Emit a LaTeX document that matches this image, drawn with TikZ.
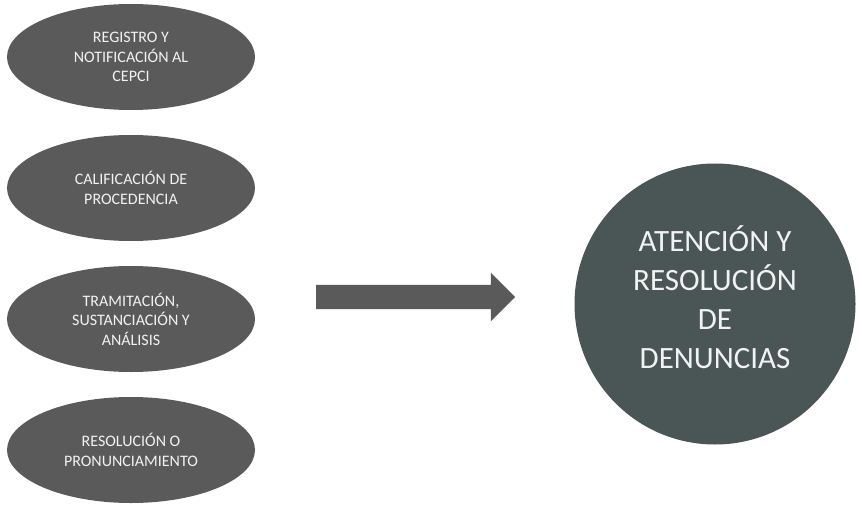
\documentclass[tikz,border=0pt]{standalone}
\usepackage{fontspec}
\setmainfont{Carlito}
\usetikzlibrary{positioning}
\usetikzlibrary{shapes,shapes.geometric,shapes.arrows,calc}
\definecolor{pasogris}{HTML}{5A5A5A}
\definecolor{metagris}{HTML}{4A5555}
\definecolor{textoclaro}{HTML}{F2F2F2}

\begin{document}
\begin{tikzpicture}[x=1pt,y=1pt,node distance=131pt,on grid,
    paso/.style={ellipse,fill=pasogris,text=textoclaro,minimum width=248pt,
        minimum height=106pt,inner sep=0pt,align=center,
        font=\fontsize{16}{19.5}\selectfont},
    meta/.style={circle,fill=metagris,minimum size=281pt,inner sep=0pt},
    metatexto/.style={text=textoclaro,inner sep=0pt,align=center,
        font=\fontsize{31}{39}\selectfont},
    flecha/.style={single arrow,fill=pasogris,minimum height=199pt,
        inner xsep=0pt,inner ysep=12pt,single arrow head extend=12pt,
        single arrow head indent=0pt}]
    \useasboundingbox (0,0) rectangle (859,507);

    \node[paso] (reg) at (131,450) {REGISTRO Y\\NOTIFICACIÓN AL\\CEPCI};
    \node[paso] (cal) [below =of reg] {CALIFICACIÓN DE\\PROCEDENCIA};
    \node[paso] (tra) [below =of cal] {TRAMITACIÓN,\\SUSTANCIACIÓN Y\\ANÁLISIS};
    \node[paso] (res) [below =of tra] {RESOLUCIÓN O\\PRONUNCIAMIENTO};

    \node[meta] (aten) at (715,203) {};
    \node[metatexto] (atentxt) at ([yshift=7pt]aten.center) {ATENCIÓN Y\\RESOLUCIÓN\\DE\\DENUNCIAS};
    \node[flecha] (fl) at (409.5,210) {};
\end{tikzpicture}
\end{document}
